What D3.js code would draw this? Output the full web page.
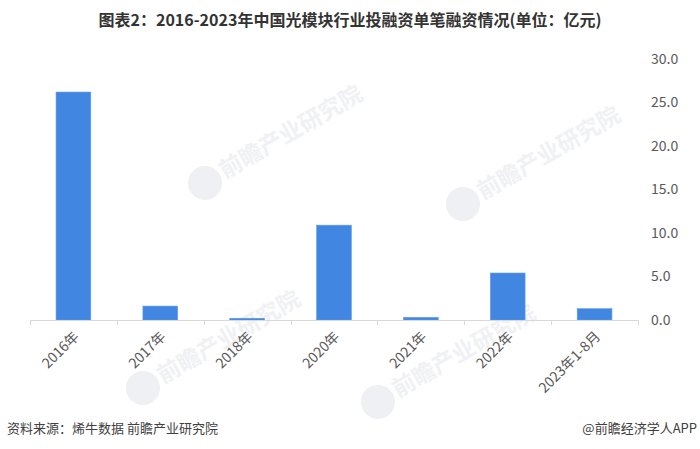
<!DOCTYPE html>
<html><head><meta charset="utf-8">
<script src="https://cdn.jsdelivr.net/npm/d3@7"></script>
<style>body{margin:0;background:#fff}svg{display:block}</style>
</head><body>
<svg id="c" width="700" height="449"></svg>
<script>
const categories = ["2016年","2017年","2018年","2020年","2021年","2022年","2023年1-8月"];
const values = [26.2, 1.6, 0.2, 10.9, 0.3, 5.4, 1.3];
const yTicks = [0, 5, 10, 15, 20, 25, 30];
const title = "图表2：2016-2023年中国光模块行业投融资单笔融资情况(单位：亿元)";
const source = "资料来源：烯牛数据 前瞻产业研究院";
const credit = "@前瞻经济学人APP";

(function(){
const svg = d3.select("#c");
const font = "'Noto Sans CJK SC','Noto Sans',sans-serif";
const mLeft = 30, mRight = 638, mTop = 59, mBottom = 320;

// watermarks
const wm = svg.append("g");
[[205,183],[463,204],[143,388],[378,402]].forEach(([x,y]) => {
  wm.append("circle").attr("cx", x).attr("cy", y).attr("r", 17).attr("fill", "#eef0f3");
  wm.append("text").attr("transform", `translate(${x+20},${y-4}) rotate(-30)`)
    .attr("font-family", font).attr("font-weight", "bold").attr("font-size", 23).attr("fill", "#f0f1f4")
    .text("前瞻产业研究院");
});

const x = d3.scaleBand().domain(categories).range([mLeft, mRight]).paddingInner(0.6).paddingOuter(0.3);
const y = d3.scaleLinear().domain([0, 30]).range([mBottom, mTop]);

svg.append("g").selectAll("rect").data(values).join("rect")
  .attr("x", (d,i) => x(categories[i]))
  .attr("width", x.bandwidth())
  .attr("y", d => y(d))
  .attr("height", d => y(0) - y(d))
  .attr("fill", "#4186e0")
  .attr("stroke", "#5c9af0").attr("stroke-width", 0.6);

// x axis
const step = (mRight - mLeft) / categories.length;
const xa = svg.append("g");
xa.append("line").attr("x1", mLeft).attr("x2", mRight).attr("y1", mBottom + 0.5).attr("y2", mBottom + 0.5)
  .attr("stroke", "#d9d9d9");
d3.range(categories.length + 1).forEach(i => {
  const xx = Math.round(mLeft + i * step) + 0.5;
  xa.append("line").attr("x1", xx).attr("x2", xx).attr("y1", mBottom).attr("y2", mBottom + 5).attr("stroke", "#d9d9d9");
});
xa.selectAll("text.cat").data(categories).join("text")
  .attr("class", "cat")
  .attr("transform", d => `translate(${x(d) + x.bandwidth()/2 + 3},${mBottom + 14}) rotate(-45)`)
  .attr("text-anchor", "end").attr("dy", "0.35em")
  .attr("font-family", font).attr("font-size", 14).attr("fill", "#595959")
  .text(d => d);

// y axis on right
const ya = d3.axisRight(y).tickValues(yTicks).tickFormat(d3.format(".1f")).tickSize(0).tickPadding(0);
const yg = svg.append("g").attr("transform", `translate(651,0)`).call(ya);
yg.select(".domain").remove();
yg.selectAll("text").attr("font-family", font).attr("font-size", 14).attr("fill", "#595959");

// title
svg.append("text").attr("x", 350).attr("y", 26).attr("text-anchor", "middle")
  .attr("font-family", font).attr("font-weight", "bold").attr("font-size", 16).attr("fill", "#333")
  .text(title);

svg.append("text").attr("x", 7).attr("y", 433).attr("font-family", font).attr("font-size", 13).attr("fill", "#404040").text(source);
svg.append("text").attr("x", 697).attr("y", 433).attr("text-anchor", "end").attr("font-family", font).attr("font-size", 13).attr("fill", "#404040").text(credit);
})();
</script>
</body></html>
